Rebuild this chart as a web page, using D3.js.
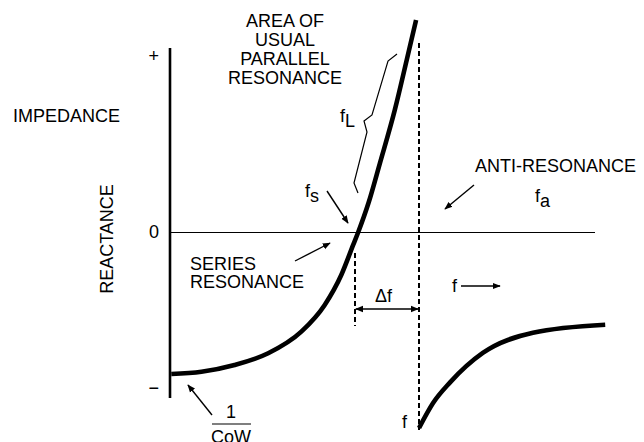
<!DOCTYPE html>
<html>
<head>
<meta charset="utf-8">
<script src="https://cdn.jsdelivr.net/npm/d3@7"></script>
<style>
  html, body { margin: 0; padding: 0; background: #fff; }
  svg { display: block; }
  text { font-family: "Liberation Sans", Arial, Helvetica, sans-serif; fill: #000; }
</style>
</head>
<body>
<svg id="chart" width="644" height="442"></svg>
<script>
// Crystal reactance vs. frequency (arbitrary units)
const freqBelow = [0.03, 0.74, 1.52, 2.31, 3.09, 3.64, 4.03, 4.31, 4.43, 4.67, 4.94, 5.29, 5.57, 5.79];
const reactBelow = [-0.8875, -0.873, -0.831, -0.758, -0.623, -0.456, -0.269, -0.081, 0, 0.181, 0.431, 0.763, 1.075, 1.325];
const freqAbove = [5.86, 6.19, 6.59, 7.36, 8.54, 10.24];
const reactAbove = [-1.225, -1.069, -0.94, -0.756, -0.63, -0.58];

const fSeries = 4.35;      // series resonance marker
const fAnti = 5.86;        // anti-resonance marker
const tickValues = [1.1, 0, -0.975];
const tickLabels = ["+", "0", "\u2212"];

const svg = d3.select("#chart");
const x = d3.scaleLinear().domain([0, 10]).range([170, 595]);
const y = d3.scaleLinear().domain([-1, 1]).range([392, 72]);

svg.append("defs").append("marker")
  .attr("id", "head").attr("viewBox", "0 0 10 10")
  .attr("refX", 9).attr("refY", 5)
  .attr("markerWidth", 8).attr("markerHeight", 8)
  .attr("markerUnits", "userSpaceOnUse")
  .attr("orient", "auto-start-reverse")
  .append("path").attr("d", "M0,1 L10,5 L0,9 Z").attr("fill", "#000");

// zero reactance line
svg.append("line")
  .attr("x1", x(0)).attr("x2", x(10))
  .attr("y1", y(0) + 0.5).attr("y2", y(0) + 0.5)
  .attr("stroke", "#000").attr("stroke-width", 1)
  .attr("shape-rendering", "crispEdges");

// vertical reactance axis
svg.append("line")
  .attr("x1", x(0)).attr("x2", x(0))
  .attr("y1", y(1.15)).attr("y2", y(-1.0375))
  .attr("stroke", "#000").attr("stroke-width", 2.6);

const axis = d3.axisLeft(y)
  .tickValues(tickValues)
  .tickFormat((d, i) => tickLabels[i])
  .tickSize(0).tickPadding(11);
const ag = svg.append("g").attr("transform", `translate(${x(0)},0)`).call(axis);
ag.select(".domain").remove();
ag.selectAll("text").attr("font-size", 18)
  .style("font-family", "'Liberation Sans', Arial, sans-serif");

// dashed resonance markers
svg.append("line")
  .attr("x1", x(fAnti)).attr("x2", x(fAnti))
  .attr("y1", 43).attr("y2", 430)
  .attr("stroke", "#000").attr("stroke-width", 1.3)
  .attr("stroke-dasharray", "5,3")
  .attr("shape-rendering", "crispEdges");
svg.append("line")
  .attr("x1", x(fSeries)).attr("x2", x(fSeries))
  .attr("y1", 253).attr("y2", 326)
  .attr("stroke", "#000").attr("stroke-width", 1.3)
  .attr("stroke-dasharray", "5,3")
  .attr("shape-rendering", "crispEdges");

// reactance curves
const line = d3.line().x(d => x(d[0])).y(d => y(d[1])).curve(d3.curveMonotoneX);
svg.append("path")
  .datum(d3.zip(freqBelow, reactBelow))
  .attr("d", line).attr("fill", "none")
  .attr("stroke", "#000").attr("stroke-width", 4.6);
svg.append("path")
  .datum(d3.zip(freqAbove, reactAbove))
  .attr("d", line).attr("fill", "none")
  .attr("stroke", "#000").attr("stroke-width", 4.6);

// brace along the usual parallel resonance region
svg.append("path")
  .attr("d", "M397,54 L388,61 L372,115 L364,121 L367,132 L354,183 L358,193")
  .attr("fill", "none").attr("stroke", "#000").attr("stroke-width", 1.2);

// annotation arrows
function arrow(x1, y1, x2, y2, both) {
  const p = svg.append("line")
    .attr("x1", x1).attr("y1", y1).attr("x2", x2).attr("y2", y2)
    .attr("stroke", "#000").attr("stroke-width", 1.4)
    .attr("marker-end", "url(#head)");
  if (both) p.attr("marker-start", "url(#head)");
}
arrow(212, 415, 188, 385);
arrow(327, 191, 348, 223);
arrow(295, 261, 330, 243);
arrow(474, 185, 445, 209);
arrow(461, 286, 500, 286);
arrow(x(fSeries) + 1, 309, x(fAnti) - 1, 309, true);

// labels
function label(txt, lx, ly, anchor, size) {
  return svg.append("text").attr("x", lx).attr("y", ly)
    .attr("text-anchor", anchor || "start")
    .attr("font-size", size || 18).text(txt);
}
["AREA OF", "USUAL", "PARALLEL", "RESONANCE"].forEach((t, i) =>
  label(t, 285, 27 + i * 19, "middle"));
label("IMPEDANCE", 13, 122);
svg.append("text").attr("transform", "translate(113,239) rotate(-90)")
  .attr("text-anchor", "middle").attr("font-size", 18).text("REACTANCE");
label("ANTI-RESONANCE", 475, 172);
label("SERIES", 190, 270);
label("RESONANCE", 190, 288);

function sub(base, s, lx, ly, shift) {
  const t = svg.append("text").attr("x", lx).attr("y", ly).attr("font-size", 18);
  t.append("tspan").text(base);
  t.append("tspan").attr("dy", shift).text(s);
}
sub("f", "L", 340, 122, 5);
sub("f", "s", 305, 197, 5);
sub("f", "a", 535, 202, 5);

label("\u0394f", 375, 302);
label("f", 452, 292);
label("f", 402, 428);
label("1", 231, 418, "middle");
svg.append("line").attr("x1", 212).attr("x2", 251).attr("y1", 424).attr("y2", 424)
  .attr("stroke", "#000").attr("stroke-width", 1.2);
label("CoW", 231, 443, "middle");
</script>
</body>
</html>
